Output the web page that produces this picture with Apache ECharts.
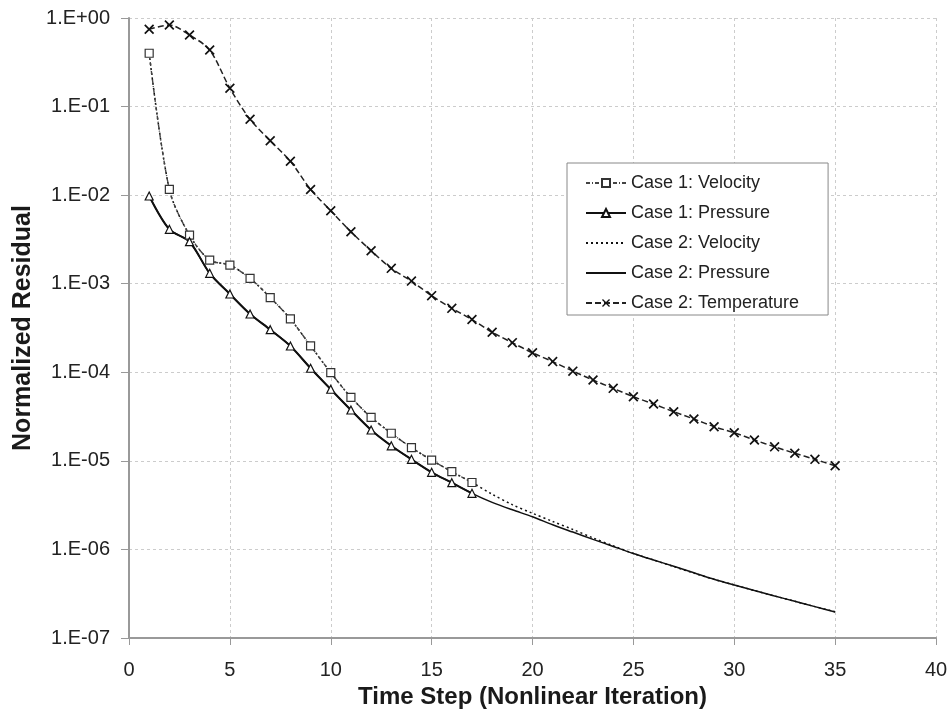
<!DOCTYPE html>
<html>
<head>
<meta charset="utf-8">
<title>Normalized Residual</title>
<script src="https://cdn.jsdelivr.net/npm/echarts@6/dist/echarts.min.js"></script>
<style>
    html, body { margin: 0; padding: 0; background: #fff; }
    #main { width: 952px; height: 715px; }
</style>
</head>
<body>
<div id="main"></div>
<script>
// time steps
var steps1 = [1, 2, 3, 4, 5, 6, 7, 8, 9, 10, 11, 12, 13, 14, 15, 16, 17];
var steps2 = [1, 2, 3, 4, 5, 6, 7, 8, 9, 10, 11, 12, 13, 14, 15, 16, 17,
    18, 19, 20, 21, 22, 23, 24, 25, 26, 27, 28, 29, 30, 31, 32, 33, 34, 35];

// case 1 (markers)
var case1Velocity = [0.40, 0.0116, 0.00353, 0.00185, 0.00162, 0.00115, 0.000698, 0.0004,
    0.000199, 9.9e-5, 5.22e-5, 3.1e-5, 2.05e-5, 1.41e-5, 1.02e-5, 7.55e-6, 5.7e-6];
var case1Pressure = [0.00978, 0.00411, 0.00298, 0.00131, 0.000765, 0.000455, 0.000303, 0.000198,
    0.000111, 6.43e-5, 3.75e-5, 2.23e-5, 1.48e-5, 1.04e-5, 7.43e-6, 5.67e-6, 4.3e-6];

// case 2 (no markers except temperature)
var case2Velocity = [0.40, 0.0116, 0.00353, 0.00185, 0.00162, 0.00115, 0.000698, 0.0004,
    0.000199, 9.9e-5, 5.22e-5, 3.1e-5, 2.05e-5, 1.41e-5, 1.02e-5, 7.55e-6, 5.7e-6,
    4.2e-6, 3.2e-6, 2.56e-6, 2.07e-6, 1.68e-6, 1.35e-6, 1.1e-6, 9.0e-7, 7.6e-7,
    6.4e-7, 5.4e-7, 4.6e-7, 3.98e-7, 3.43e-7, 2.98e-7, 2.6e-7, 2.26e-7, 1.98e-7];
var case2Pressure = [0.00978, 0.00411, 0.00298, 0.00131, 0.000765, 0.000455, 0.000303, 0.000198,
    0.000111, 6.43e-5, 3.75e-5, 2.23e-5, 1.48e-5, 1.04e-5, 7.43e-6, 5.67e-6, 4.3e-6,
    3.4e-6, 2.8e-6, 2.34e-6, 1.9e-6, 1.57e-6, 1.3e-6, 1.08e-6, 9.0e-7, 7.6e-7,
    6.45e-7, 5.45e-7, 4.6e-7, 3.96e-7, 3.43e-7, 2.98e-7, 2.6e-7, 2.26e-7, 1.97e-7];
var case2Temperature = [0.745, 0.834, 0.643, 0.435, 0.161, 0.0718, 0.0412, 0.0241, 0.0116,
    0.00667, 0.00386, 0.00236, 0.00149, 0.00107, 0.000733, 0.000527, 0.000394, 0.000283,
    0.000216, 0.000166, 0.000132, 0.000103, 8.18e-5, 6.59e-5, 5.3e-5, 4.38e-5, 3.59e-5,
    2.97e-5, 2.43e-5, 2.08e-5, 1.72e-5, 1.44e-5, 1.22e-5, 1.04e-5, 8.8e-6];

var xTicks = { min: 0, max: 40, interval: 5 };

function pairs(xs, ys) {
    var out = [];
    for (var i = 0; i < xs.length; i++) {
        out.push([xs[i], ys[i]]);
    }
    return out;
}

function sciLabel(value) {
    var e = Math.round(Math.log10(value));
    var a = Math.abs(e);
    return '1.E' + (e < 0 ? '-' : '+') + (a < 10 ? '0' + a : a);
}

var crossPath = 'path://M0,1.2L1.2,0L10,8.8L8.8,10ZM8.8,0L10,1.2L1.2,10L0,8.8Z';
var font = 'Liberation Sans, Arial, sans-serif';

var myChart = echarts.init(document.getElementById('main'));

var option = {
    backgroundColor: '#fff',
    animation: false,
    textStyle: { fontFamily: font },
    grid: { left: 129, right: 16, top: 18, bottom: 77 },
    legend: {
        orient: 'vertical',
        left: 567,
        top: 163,
        padding: [11, 29, 3, 18],
        itemWidth: 40,
        itemHeight: 10,
        itemGap: 12,
        backgroundColor: '#fff',
        borderColor: '#888',
        borderWidth: 1,
        textStyle: { fontSize: 18, color: '#222', fontFamily: font },
        data: [
            'Case 1: Velocity',
            'Case 1: Pressure',
            { name: 'Case 2: Velocity', itemStyle: { opacity: 0 } },
            { name: 'Case 2: Pressure', itemStyle: { opacity: 0 } },
            'Case 2: Temperature'
        ]
    },
    xAxis: {
        type: 'value',
        min: xTicks.min,
        max: xTicks.max,
        interval: xTicks.interval,
        name: 'Time Step (Nonlinear Iteration)',
        nameLocation: 'middle',
        nameGap: 39,
        nameTextStyle: { fontSize: 24, fontWeight: 'bold', color: '#1a1a1a', fontFamily: font },
        axisLine: { lineStyle: { color: '#999', width: 2 } },
        axisTick: { show: true, inside: false, length: 7, lineStyle: { color: '#999', width: 1 } },
        axisLabel: { fontSize: 20, color: '#222', margin: 22 },
        splitLine: { show: true, lineStyle: { color: '#ccc', type: [3, 3], width: 1 } }
    },
    yAxis: {
        type: 'log',
        logBase: 10,
        min: 1e-7,
        max: 1,
        interval: 1,
        name: 'Normalized Residual',
        nameLocation: 'middle',
        nameGap: 92,
        nameRotate: 90,
        nameTextStyle: { fontSize: 25, fontWeight: 'bold', color: '#1a1a1a', fontFamily: font },
        axisLine: { show: true, lineStyle: { color: '#999', width: 2 } },
        axisTick: { show: true, inside: false, length: 8, lineStyle: { color: '#999', width: 1 } },
        axisLabel: { fontSize: 20, color: '#222', margin: 19, formatter: sciLabel },
        splitLine: { show: true, lineStyle: { color: '#ccc', type: [3, 3], width: 1 } },
        minorTick: { show: false },
        minorSplitLine: { show: false }
    },
    series: [{
        name: 'Case 1: Velocity',
        type: 'line',
        smooth: 0.3,
        data: pairs(steps1, case1Velocity),
        symbol: 'rect',
        symbolSize: 8,
        itemStyle: { color: '#fff', borderColor: '#333', borderWidth: 1.2 },
        lineStyle: { color: '#444', width: 1.4, type: [4, 2, 1, 2] },
        z: 5
    }, {
        name: 'Case 1: Pressure',
        type: 'line',
        smooth: 0.3,
        data: pairs(steps1, case1Pressure),
        symbol: 'triangle',
        symbolSize: 8,
        itemStyle: { color: '#fff', borderColor: '#111', borderWidth: 1.2 },
        lineStyle: { color: '#111', width: 2 },
        z: 5
    }, {
        name: 'Case 2: Velocity',
        type: 'line',
        smooth: 0.3,
        data: pairs(steps2, case2Velocity),
        symbol: 'none',
        itemStyle: { color: '#111' },
        lineStyle: { color: '#111', width: 1.5, type: [2, 3] },
        z: 3
    }, {
        name: 'Case 2: Pressure',
        type: 'line',
        smooth: 0.3,
        data: pairs(steps2, case2Pressure),
        symbol: 'none',
        itemStyle: { color: '#111' },
        lineStyle: { color: '#111', width: 1.5 },
        z: 3
    }, {
        name: 'Case 2: Temperature',
        type: 'line',
        smooth: 0.3,
        data: pairs(steps2, case2Temperature),
        symbol: crossPath,
        symbolSize: 10,
        itemStyle: { color: '#111' },
        lineStyle: { color: '#222', width: 1.5, type: [6, 3] },
        z: 4
    }]
};

myChart.setOption(option);
</script>
</body>
</html>
